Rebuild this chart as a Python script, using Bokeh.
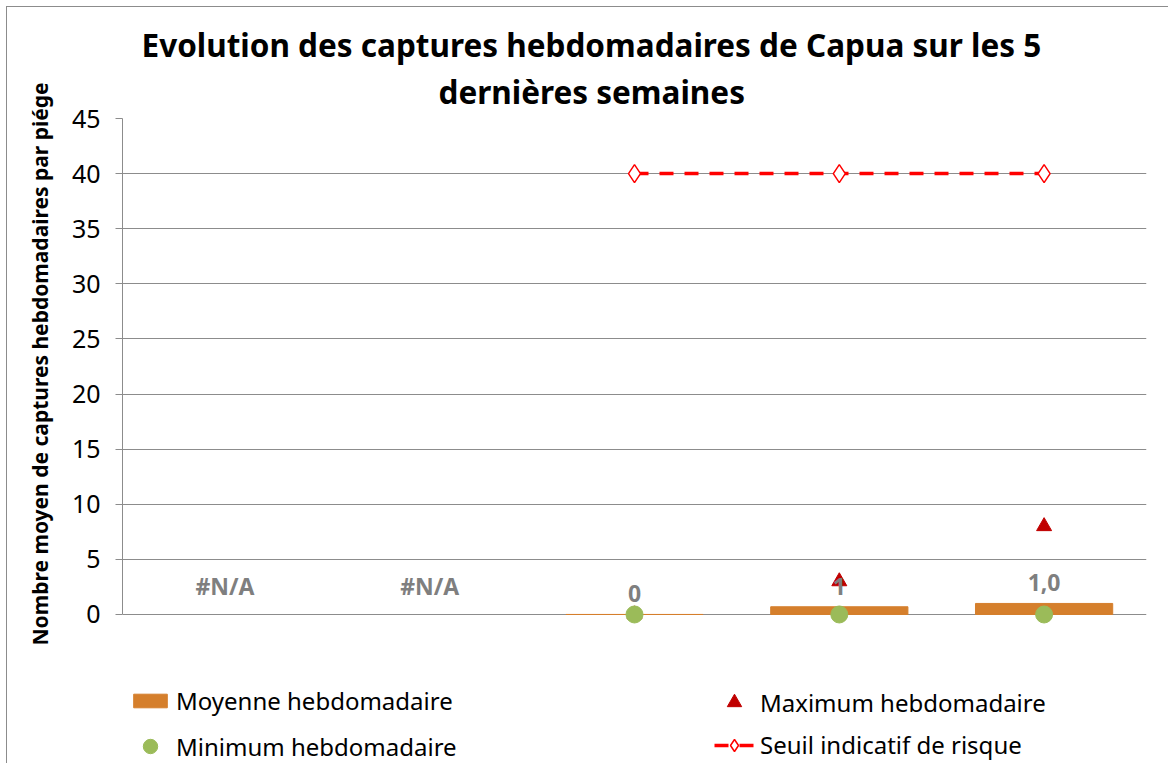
from bokeh.plotting import figure
from bokeh.models import Range1d, Legend, LegendItem, ColumnDataSource, LabelSet, Title
from bokeh.embed import file_html
from bokeh.resources import INLINE
from bokeh.core.properties import value

nan = float("nan")
weeks = [1, 2, 3, 4, 5]
moyenne = [nan, nan, 0.0, 0.7, 1.0]
maximum = [nan, nan, 0, 3, 8]
minimum = [nan, nan, 0, 0, 0]
seuil = [nan, nan, 40, 40, 40]
labels = ["#N/A", "#N/A", "0", "1", "1,0"]
y_ticks = [0, 5, 10, 15, 20, 25, 30, 35, 40, 45]
title_lines = ["Evolution des captures hebdomadaires de Capua sur les 5", "dernières semaines"]
y_title = "Nombre moyen de captures hebdomadaires par piége"

label_y = [m if m == m else 0 for m in moyenne]
src = ColumnDataSource(dict(x=weeks, moy=moyenne, mx=maximum, mn=minimum, s=seuil,
                            lab=labels, ly=label_y))

FONT = "Noto Sans"
p = figure(frame_width=1024, frame_height=643, output_backend="svg", toolbar_location=None,
           x_range=Range1d(0.5, 5.5), y_range=Range1d(-13.34, 45),
           min_border_left=115, min_border_right=22, min_border_top=111, min_border_bottom=2)
p.title = None
# line 2 (closest to the frame) first, then line 1
for t, so, off in zip(reversed(title_lines), [12, -9], [316, 19]):
    p.add_layout(Title(text=t, align="left", text_font=FONT, text_font_size="31.5px",
                       text_font_style="bold", text_color="#000000", standoff=so, offset=off), "above")
p.outline_line_color = None
p.styles = {"border-left": "1px solid #8c8c8c", "border-top": "1px solid #8c8c8c",
            "margin-left": "6px", "margin-top": "6px"}

p.xaxis.visible = False
p.xgrid.visible = False
p.yaxis.ticker = y_ticks
p.yaxis.bounds = (0, 45)
p.ygrid.grid_line_color = "#8c8c8c"
p.ygrid.grid_line_width = 1
p.yaxis.axis_line_color = "#8c8c8c"
p.yaxis.major_tick_line_color = "#8c8c8c"
p.yaxis.major_tick_out = 7
p.yaxis.major_tick_in = 0
p.yaxis.minor_tick_line_color = None
p.yaxis.major_label_standoff = 15
p.yaxis.major_label_text_font = FONT
p.yaxis.major_label_text_font_size = "25px"
p.yaxis.major_label_text_color = "#000000"
p.add_layout(Title(text=y_title, align="left", text_font=FONT, text_font_size="21px",
                   text_font_style="bold", text_color="#000000", standoff=30, offset=116), "left")

r_bar = p.vbar(x="x", top="moy", bottom=0, width=0.67, source=src, color="#D57F2C")
r_seuil_l = p.line(x="x", y="s", source=src, line_color="#FF0000", line_width=3.5, line_dash="14 11")
r_seuil_m = p.scatter(x="x", y="s", source=src, marker="diamond", size=18,
                      fill_color="white", line_color="#FF0000", line_width=1.5)
r_max = p.scatter(x="x", y="mx", source=src, marker="triangle", size=15,
                  fill_color="#C00000", line_color="#C00000")
r_min = p.scatter(x="x", y="mn", source=src, marker="circle", size=17,
                  fill_color="#9BBB59", line_color="#9BBB59")

lbl = LabelSet(x="x", y="ly", text="lab", source=src, text_align="center",
               text_baseline="bottom", y_offset=12, text_font=value(FONT),
               text_font_size="23px", text_font_style="bold", text_color="#7F7F7F")
p.add_layout(lbl)


def add_legend(label, renderers, loc, gw, gh, standoff):
    lg = Legend(items=[LegendItem(label=label, renderers=renderers)], location=loc)
    lg.label_text_font = FONT
    lg.label_text_font_size = "24px"
    lg.label_text_color = "#000000"
    lg.glyph_width = gw
    lg.glyph_height = gh
    lg.label_standoff = standoff
    lg.label_height = 30
    lg.padding = 0
    lg.margin = 0
    lg.border_line_color = None
    lg.background_fill_alpha = 0
    p.add_layout(lg)

add_legend("Moyenne hebdomadaire", [r_bar], (7, 44), 42, 17, 5)
add_legend("Minimum hebdomadaire", [r_min], (7, -3), 42, 36, 5)
add_legend("Maximum hebdomadaire", [r_max], (592, 41), 40, 36, 6)
add_legend("Seuil indicatif de risque", [r_seuil_l, r_seuil_m], (592, 0), 40, 30, 6)

open("out.html", "w").write(file_html(p, INLINE))
